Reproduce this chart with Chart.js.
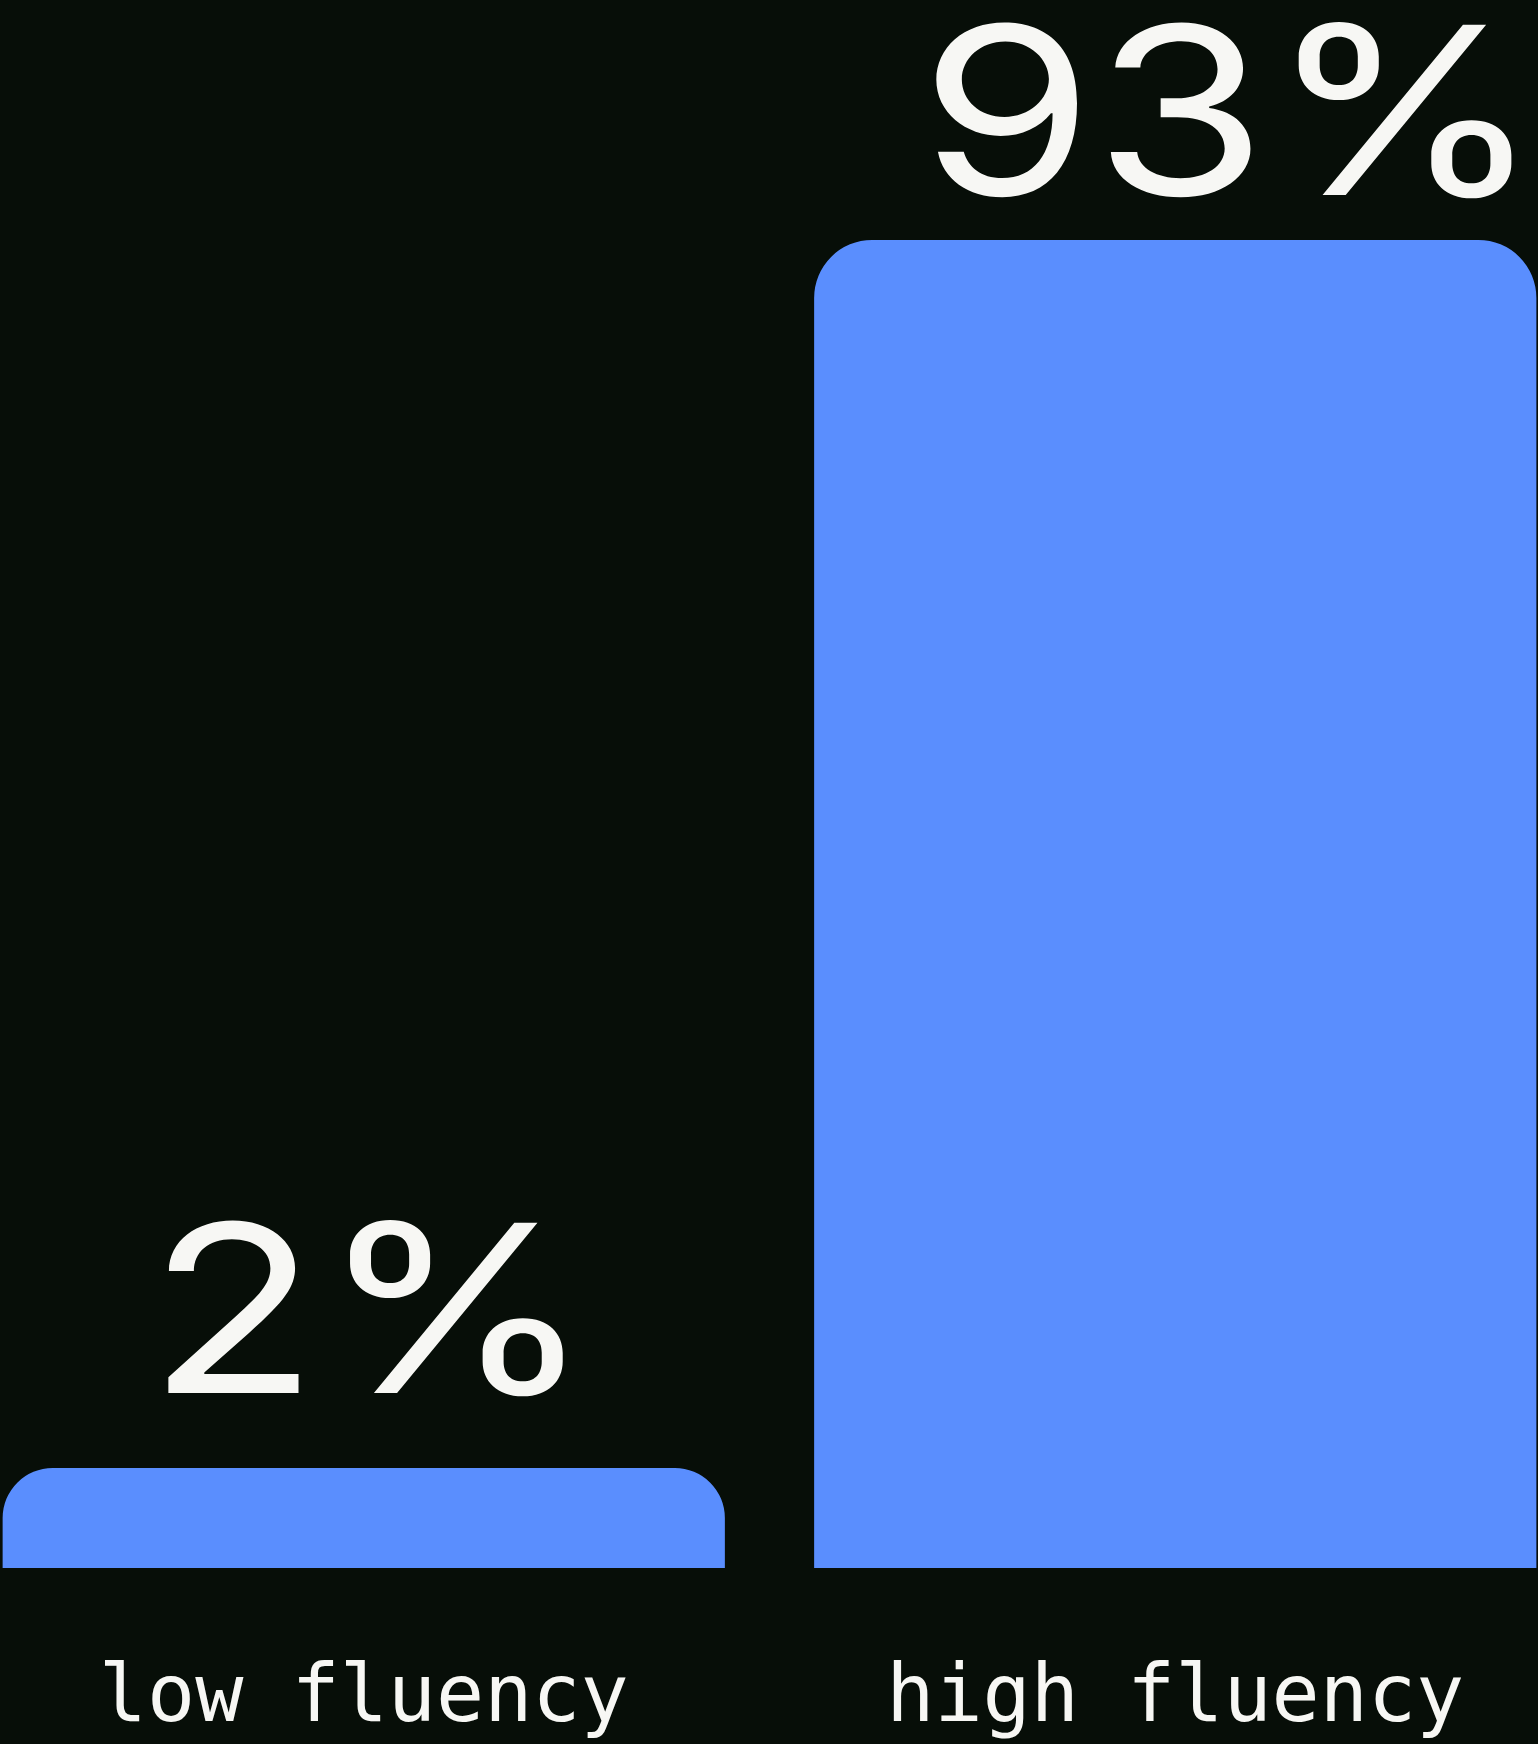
<!DOCTYPE html>
<html>
<head>
<meta charset="utf-8">
<script src="https://cdn.jsdelivr.net/npm/chart.js@4.4.1/dist/chart.umd.min.js"></script>
<style>
  html, body { margin: 0; padding: 0; background: #070e08; overflow: hidden; }
  body { width: 1538px; height: 1744px; position: relative; }
  /* canvas is a bit wider than the page so the two bars land at the page edges */
  #wrap { position: absolute; left: -42px; top: 0; width: 1623px; height: 1744px; }
</style>
</head>
<body>
<div id="wrap"><canvas id="chart"></canvas></div>
<script>
  // Data
  var categories = ["low fluency", "high fluency"];
  var shares = [2, 93];
  var valueLabels = ["2%", "93%"];

  var BG = "#070e08";
  var BAR = "#5a8efe";
  var INK = "#f7f7f4";

  // value labels above each bar: gap to bar top and a sideways nudge
  var LABEL_GAP = [75, 45];
  var LABEL_NUDGE = [7, 56];
  var LABEL_STRETCH = 1.2;

  var valueLabelPlugin = {
    id: "valueLabels",
    afterDatasetsDraw: function (chart) {
      var meta = chart.getDatasetMeta(0);
      var ctx = chart.ctx;
      ctx.save();
      ctx.fillStyle = INK;
      ctx.font = "400 234px Inter, 'Noto Sans', sans-serif";
      ctx.textAlign = "center";
      ctx.textBaseline = "alphabetic";
      meta.data.forEach(function (bar, i) {
        ctx.save();
        ctx.translate(bar.x + LABEL_NUDGE[i], bar.y - LABEL_GAP[i]);
        ctx.scale(LABEL_STRETCH, 1);
        ctx.fillText(valueLabels[i], 0, 0);
        ctx.restore();
      });
      ctx.restore();
    }
  };

  new Chart(document.getElementById("chart"), {
    type: "bar",
    data: {
      labels: categories,
      datasets: [{
        data: shares,
        backgroundColor: BAR,
        borderWidth: 0,
        borderSkipped: "start",
        borderRadius: { topLeft: 58, topRight: 58, bottomLeft: 0, bottomRight: 0 },
        minBarLength: 100,
        categoryPercentage: 1,
        barPercentage: 0.89
      }]
    },
    options: {
      responsive: true,
      maintainAspectRatio: false,
      animation: false,
      // negative bottom padding: the tick box (padding counted twice) may run off the canvas
      layout: { padding: { top: 140, left: 0, right: 0, bottom: -88 } },
      plugins: { legend: { display: false }, tooltip: { enabled: false } },
      scales: {
        x: {
          grid: { display: false, drawTicks: false },
          border: { display: false },
          ticks: {
            color: INK,
            padding: 84,
            font: { family: "'DejaVu Sans Mono', monospace", size: 80 }
          }
        },
        y: {
          display: false,
          min: 0,
          max: 100
        }
      }
    },
    plugins: [valueLabelPlugin]
  });
</script>
</body>
</html>
